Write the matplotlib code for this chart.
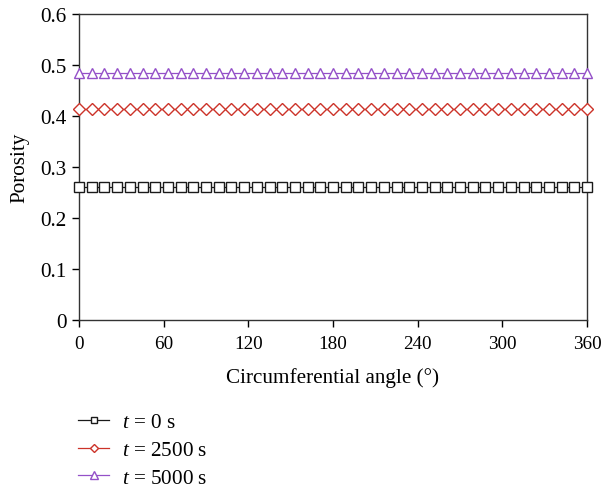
import matplotlib
matplotlib.use("Agg")
import matplotlib.pyplot as plt
import numpy as np

angles = list(range(0, 361, 9))
por_t0 = [0.261] * len(angles)
por_t2500 = [0.413] * len(angles)
por_t5000 = [0.484] * len(angles)
labels = [r"$t$ = 0 s", r"$t$ = 2500 s", r"$t$ = 5000 s"]
xticks = [0, 60, 120, 180, 240, 300, 360]
yticks = [0, 0.1, 0.2, 0.3, 0.4, 0.5, 0.6]
ytick_labels = ["0", "0.1", "0.2", "0.3", "0.4", "0.5", "0.6"]

plt.rcParams['font.family'] = ['Liberation Serif', 'DejaVu Serif']
plt.rcParams['mathtext.fontset'] = 'custom'
plt.rcParams['mathtext.rm'] = 'Liberation Serif'
plt.rcParams['mathtext.it'] = 'Liberation Serif:italic'

FS = 15.2
fig = plt.figure(figsize=(6.02, 4.89), dpi=100)
ax = fig.add_axes([79/602, 1-321/489, (587-79)/602, (321-15)/489])

styles = [
    dict(color='#1a1a1a', marker='s', ms=6.6),
    dict(color='#cc3329', marker='D', ms=6.0),
    dict(color='#9450c8', marker='^', ms=7.2),
]
for y, lab, st in zip([por_t0, por_t2500, por_t5000], labels, styles):
    ax.plot(angles, y, color=st['color'], lw=0.9, marker=st['marker'],
            ms=st['ms'], mfc='white', mec=st['color'], mew=1.0, label=lab,
            clip_on=False, zorder=3)

ax.set_xlim(0, 360)
ax.set_ylim(0, 0.6)
ax.set_xticks(xticks)
ax.set_xticklabels([str(v) for v in xticks])
ax.set_yticks(yticks)
ax.set_yticklabels(ytick_labels)
ax.tick_params(axis='both', direction='out', length=5, width=1.0,
               top=False, right=False, pad=4)
ax.tick_params(axis='x', pad=6, labelsize=13.8)
ax.tick_params(axis='y', labelsize=FS)
for s in ax.spines.values():
    s.set_linewidth(1.0)
    s.set_color('#333333')
ax.set_xlabel("Circumferential angle (°)", fontsize=FS, labelpad=11)
ax.set_ylabel("Porosity", fontsize=FS, labelpad=8)

leg = fig.legend(loc='upper left', bbox_to_anchor=(70/602, 1-405/489),
                 frameon=False, fontsize=FS, handlelength=1.45, handletextpad=0.6,
                 labelspacing=0.38, borderaxespad=0, markerscale=0.75)

fig.savefig("out.png", dpi=100)
